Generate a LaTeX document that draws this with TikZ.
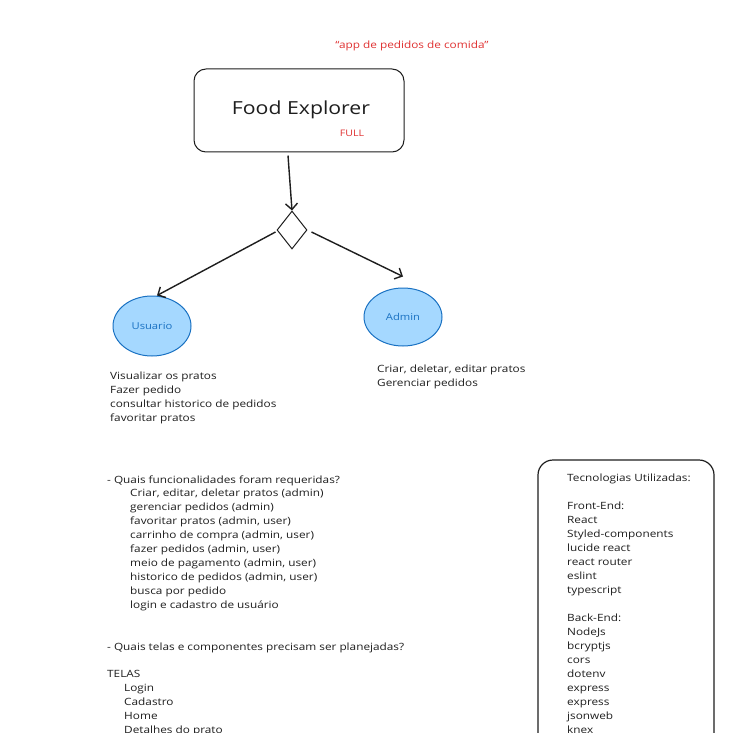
\documentclass[tikz,border=0pt]{standalone}
\usepackage{fontspec}
\setmainfont{Open Sans}
\newfontfamily\handfont{Open Sans}[FakeStretch=1.18]
\usetikzlibrary{arrows.meta,shapes.geometric}
\definecolor{ink}{HTML}{1E1E1E}
\definecolor{redtxt}{HTML}{E03131}
\definecolor{bluestroke}{HTML}{1971C2}
\definecolor{bluefill}{HTML}{A5D8FF}
\begin{document}
\begin{tikzpicture}[x=1pt,y=-1pt,
  txt/.style={anchor=base west, inner sep=0pt, font=\handfont\fontsize{10}{12}\selectfont, text=ink},
  arr/.style={draw=ink, line width=1.4pt, -{Straight Barb[length=6pt,width=12pt]}},
  actor/.style={ellipse, draw=bluestroke, fill=bluefill, line width=1pt, text=bluestroke, font=\handfont\fontsize{9.5}{11}\selectfont, minimum width=78pt, minimum height=60pt, inner sep=0pt}]
\fill[white] (0,0) rectangle (739,733);
\useasboundingbox (0,0) rectangle (739,733);
\clip (0,0) rectangle (739,733);

\node[text=redtxt, font=\handfont\fontsize{10}{12}\selectfont, inner sep=0pt] (quote) at (412,46) {“app de pedidos de comida”};
\node[draw=ink, line width=1pt, rounded corners=12pt, minimum width=210pt, minimum height=83pt] (fe) at (299,110.5) {};
\node[font=\handfont\fontsize{18}{22}\selectfont, text=ink, inner sep=0pt] (title) at (301,110) {Food Explorer};
\node[text=redtxt, font=\handfont\fontsize{9}{11}\selectfont, inner sep=0pt] (full) at (352,133) {FULL};

\node[diamond, draw=ink, line width=1pt, minimum width=30pt, minimum height=38pt, inner sep=0pt] (dia) at (292,230) {};
\node[actor] (usr) at (152,326) {Usuario};
\node[actor, minimum height=58pt] (adm) at (403,317) {Admin};

\draw[arr] ([xshift=-11pt,yshift=-3pt]fe.south) -- (dia.north);
\draw[arr] ([xshift=-1pt,yshift=-2pt]dia.west) -- ([xshift=5pt]usr.north);
\draw[arr] ([xshift=4pt,yshift=-2pt]dia.east) -- ([yshift=11pt]adm.north);

\foreach \t [count=\i] in {Visualizar os pratos, Fazer pedido, consultar historico de pedidos, favoritar pratos}
  \node[txt] (u\i) at (110,{376+3.5+14*(\i-1)}) {\t};
\foreach \t [count=\i] in {{Criar, deletar, editar pratos}, Gerenciar pedidos}
  \node[txt] (a\i) at (377,{369+3.5+14*(\i-1)}) {\t};

\node[txt] (q1) at (107,483.5) {- Quais funcionalidades foram requeridas?};
\foreach \t [count=\i] in {{Criar, editar, deletar pratos (admin)}, gerenciar pedidos (admin), {favoritar pratos (admin, user)}, {carrinho de compra (admin, user)}, {fazer pedidos (admin, user)}, {meio de pagamento (admin, user)}, {historico de pedidos (admin, user)}, busca por pedido, login e cadastro de usuário}
  \node[txt] (f\i) at (130,{493+3.5+14*(\i-1)}) {\t};

\node[txt] (q2) at (107,650.5) {- Quais telas e componentes precisam ser planejadas?};
\node[txt] (telas) at (107,677.5) {TELAS};
\foreach \t [count=\i] in {Login, Cadastro, Home, Detalhes do prato}
  \node[txt] (t\i) at (124,{688+3.5+14*(\i-1)}) {\t};

\node[draw=ink, line width=1.2pt, rounded corners=15pt, minimum width=176pt, minimum height=400pt] (tech) at (626,660) {};
\foreach \t [count=\i] in {Tecnologias Utilizadas:, {}, Front-End:, React, Styled-components, lucide react, react router, eslint, typescript, {}, Back-End:, NodeJs, bcryptjs, cors, dotenv, express, express, jsonweb, knex}
  \node[txt] (k\i) at (567,{478+3.5+14*(\i-1)}) {\t};
\end{tikzpicture}
\end{document}
